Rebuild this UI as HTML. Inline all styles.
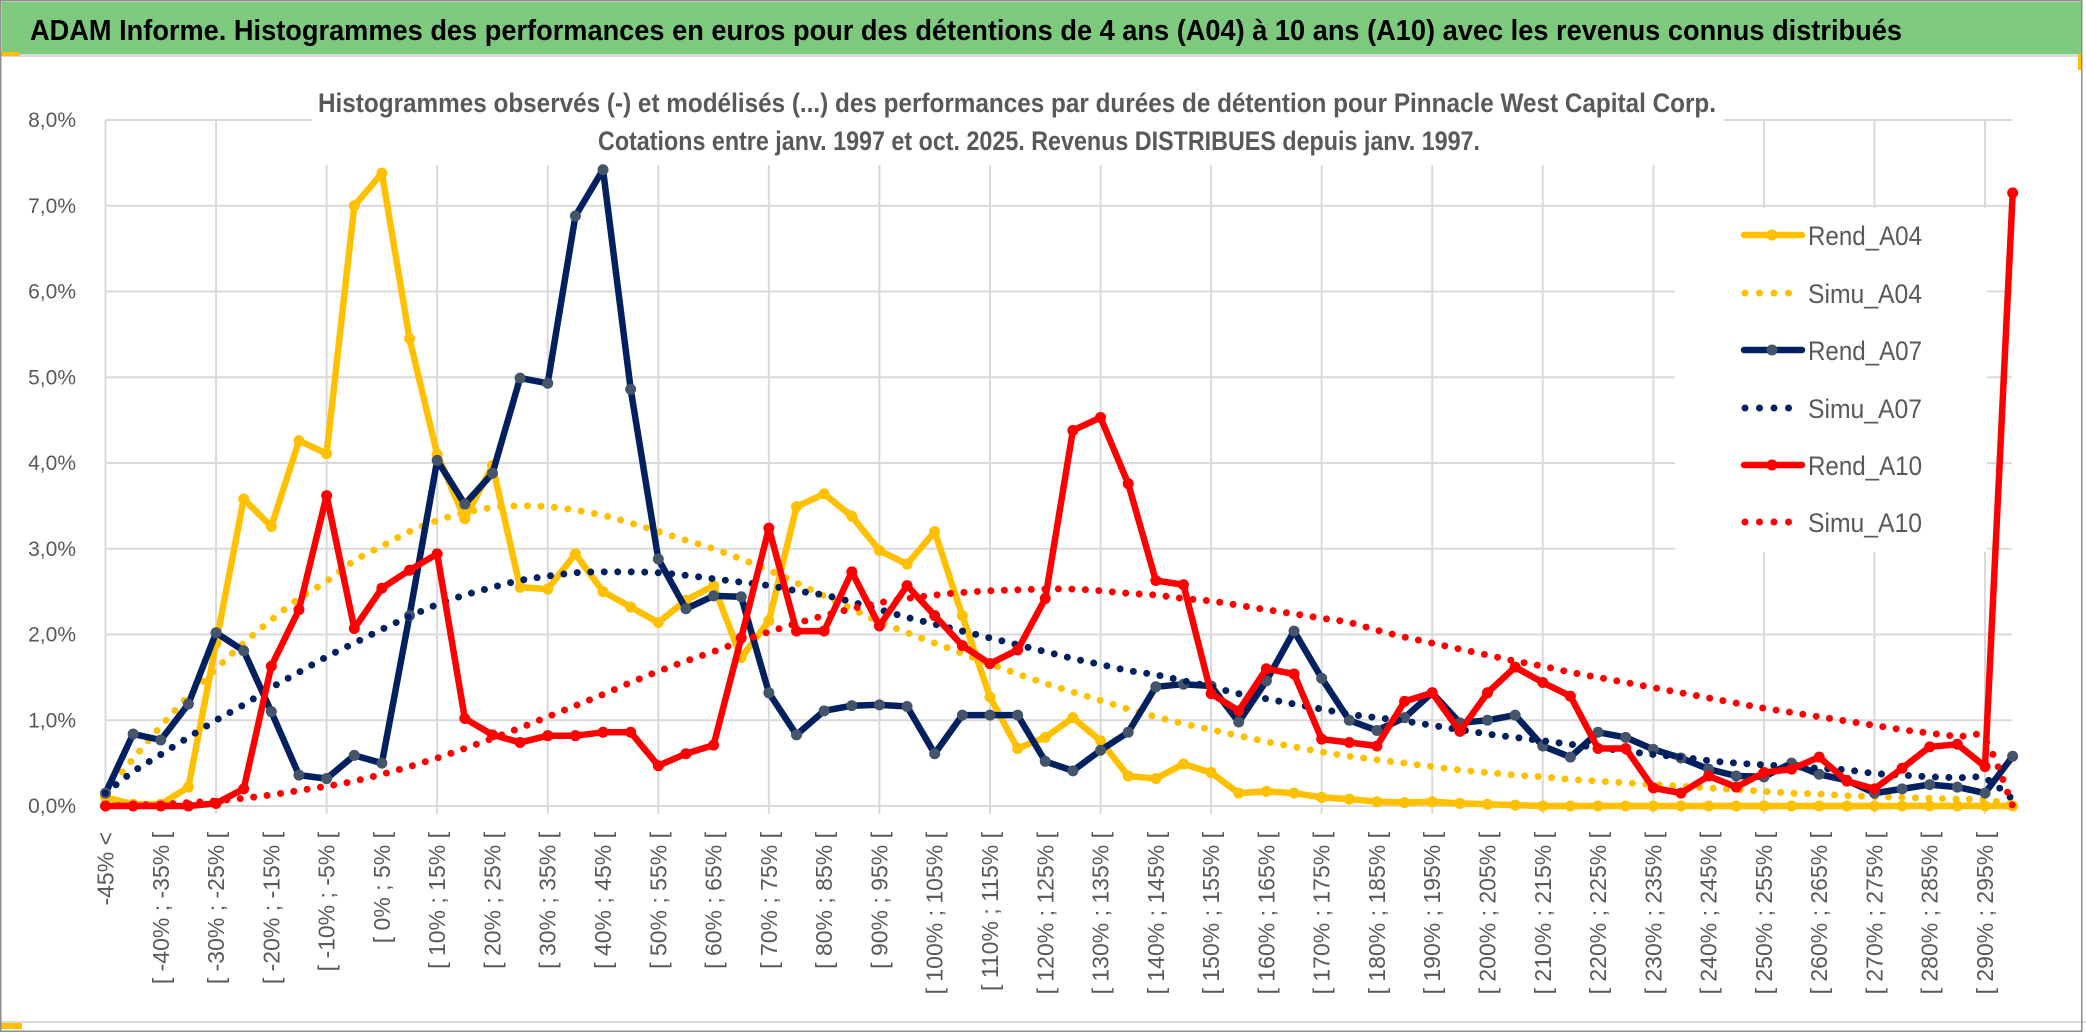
<!DOCTYPE html>
<html><head><meta charset="utf-8">
<style>
html,body{margin:0;padding:0;background:#fff;}
svg{display:block;}
text{font-family:"Liberation Sans",sans-serif;}
</style></head>
<body>
<svg id="chart" width="2086" height="1033" viewBox="0 0 2086 1033" xmlns="http://www.w3.org/2000/svg">
  <rect x="0" y="0" width="2086" height="1033" fill="#ffffff"/>
  <rect x="2" y="2" width="2080" height="52" fill="#7dc97d"/>
  <rect x="2" y="54" width="2080" height="3" fill="#d9d9d9"/>
  <rect x="1" y="52" width="19" height="4" fill="#ffc000"/>
  <rect x="2078" y="54" width="4" height="16" fill="#ffc000"/>
  <rect x="1" y="1023" width="21" height="6" fill="#ffc000"/>
  <line x1="0" y1="1022" x2="2086" y2="1022" stroke="#d9d9d9" stroke-width="2"/>
  <rect x="0.75" y="0.75" width="2081" height="1030.5" fill="none" stroke="#8c8c8c" stroke-width="1.5"/>
  <text x="30" y="40" font-size="29" font-weight="bold" fill="#000" textLength="1872" lengthAdjust="spacingAndGlyphs">ADAM Informe. Histogrammes des performances en euros pour des détentions de 4 ans (A04) à 10 ans (A10) avec les revenus connus distribués</text>
  <g id="grid"></g>
  <rect x="312" y="60" width="1412" height="105" fill="#fff"/>
  <text x="318" y="112" font-size="27" font-weight="bold" fill="#595959" textLength="1398" lengthAdjust="spacingAndGlyphs">Histogrammes observés (-) et modélisés (...) des performances par durées de détention pour Pinnacle West Capital Corp.</text>
  <text x="598" y="150" font-size="27" font-weight="bold" fill="#595959" textLength="882" lengthAdjust="spacingAndGlyphs">Cotations entre janv. 1997 et oct. 2025. Revenus DISTRIBUES depuis janv. 1997.</text>
  <rect x="1675" y="208" width="312" height="344" fill="#fff"/>
  <g id="yaxis"></g>
  <g id="xaxis"></g>
  <g id="series"></g>
  <g id="legend"></g>
</svg>
<script>
// ---- data ----
const yTicks = [0,1,2,3,4,5,6,7,8];
const yTickLabels = ["0,0%","1,0%","2,0%","3,0%","4,0%","5,0%","6,0%","7,0%","8,0%"];
const categoryLowerBounds = [-45,-40,-35,-30,-25,-20,-15,-10,-5,0,5,10,15,20,25,30,35,40,45,50,55,60,65,70,75,80,85,90,95,100,105,110,115,120,125,130,135,140,145,150,155,160,165,170,175,180,185,190,195,200,205,210,215,220,225,230,235,240,245,250,255,260,265,270,275,280,285,290,295];
const rendA04 = [0.1,0.02,0.02,0.22,1.9,3.58,3.26,4.26,4.11,7.0,7.38,5.45,4.1,3.35,3.97,2.55,2.53,2.94,2.5,2.32,2.14,2.4,2.57,1.73,2.16,3.49,3.64,3.38,2.98,2.82,3.2,2.22,1.27,0.67,0.8,1.03,0.76,0.35,0.32,0.49,0.39,0.15,0.17,0.15,0.1,0.08,0.05,0.04,0.05,0.03,0.02,0.01,0,0,0,0,0,0,0,0,0,0,0,0,0,0,0,0,0,0];
const simuA04 = [0.15,0.55,0.93,1.28,1.6,1.9,2.17,2.42,2.62,2.86,3.03,3.2,3.33,3.42,3.48,3.5,3.49,3.45,3.39,3.3,3.2,3.1,3.0,2.88,2.75,2.6,2.45,2.3,2.15,2.02,1.9,1.78,1.66,1.54,1.43,1.33,1.23,1.13,1.04,0.96,0.89,0.82,0.75,0.69,0.63,0.58,0.54,0.5,0.46,0.42,0.39,0.36,0.34,0.31,0.29,0.27,0.25,0.23,0.21,0.19,0.17,0.15,0.14,0.12,0.11,0.1,0.09,0.08,0.07,0.02];
const rendA07 = [0.15,0.84,0.77,1.19,2.02,1.81,1.1,0.36,0.32,0.59,0.5,2.22,4.03,3.52,3.88,4.99,4.93,6.88,7.42,4.86,2.88,2.3,2.45,2.44,1.32,0.83,1.11,1.17,1.18,1.16,0.61,1.06,1.06,1.06,0.52,0.41,0.65,0.86,1.39,1.42,1.4,0.98,1.46,2.04,1.49,1.0,0.88,1.03,1.32,0.97,1.0,1.06,0.7,0.57,0.86,0.8,0.66,0.56,0.43,0.35,0.34,0.5,0.37,0.3,0.15,0.2,0.25,0.22,0.15,0.58];
const simuA07 = [0.15,0.4,0.6,0.8,1.0,1.18,1.38,1.56,1.74,1.9,2.06,2.21,2.35,2.46,2.55,2.63,2.68,2.72,2.73,2.73,2.72,2.69,2.65,2.61,2.57,2.51,2.46,2.38,2.29,2.2,2.12,2.04,1.96,1.88,1.8,1.72,1.65,1.58,1.53,1.46,1.39,1.31,1.25,1.19,1.13,1.07,1.03,0.99,0.94,0.89,0.84,0.8,0.76,0.72,0.68,0.64,0.6,0.57,0.53,0.5,0.48,0.46,0.44,0.42,0.38,0.36,0.34,0.33,0.32,0.08];
const rendA10 = [0,0,0,0,0.03,0.2,1.63,2.29,3.62,2.07,2.54,2.75,2.94,1.02,0.83,0.74,0.82,0.82,0.86,0.86,0.47,0.61,0.71,1.96,3.24,2.04,2.04,2.73,2.1,2.57,2.22,1.87,1.66,1.82,2.42,4.38,4.53,3.76,2.63,2.58,1.31,1.11,1.6,1.54,0.78,0.74,0.7,1.22,1.32,0.87,1.32,1.62,1.44,1.28,0.67,0.67,0.21,0.15,0.35,0.22,0.39,0.43,0.57,0.29,0.2,0.44,0.69,0.72,0.46,7.15];
const simuA10 = [0.0,0.01,0.02,0.04,0.06,0.09,0.13,0.18,0.23,0.29,0.37,0.46,0.56,0.67,0.79,0.91,1.04,1.17,1.3,1.44,1.57,1.69,1.8,1.92,2.03,2.13,2.22,2.3,2.37,2.42,2.46,2.49,2.51,2.52,2.53,2.53,2.51,2.48,2.46,2.42,2.39,2.34,2.29,2.24,2.19,2.14,2.05,1.97,1.9,1.83,1.76,1.69,1.63,1.56,1.5,1.44,1.38,1.32,1.26,1.2,1.14,1.09,1.04,0.99,0.94,0.89,0.85,0.81,0.77,0.0];
const seriesNames = ["Rend_A04","Simu_A04","Rend_A07","Simu_A07","Rend_A10","Simu_A10"];

// ---- scales ----
const X0 = 105.5, DX = 27.64, Y0 = 806, DY = 85.75;
function xs(i){ return X0 + DX * i; }
function ys(v){ return Y0 - v * DY; }
const NS = "http://www.w3.org/2000/svg";
function mk(tag, attrs){ const e = document.createElementNS(NS, tag); for (const k in attrs) e.setAttribute(k, attrs[k]); return e; }

const categories = ["-45% <"];
for (let k = 0; k < categoryLowerBounds.length; k++) {
  const a = categoryLowerBounds[k];
  categories.push("[ " + a + "% ; " + (a + 5) + "% [");
}
const N = categories.length;

// ---- grid ----
const grid = document.getElementById("grid");
yTicks.forEach(function(t){
  const l = mk("line", {x1: X0, x2: 2012, y1: ys(t), y2: ys(t), stroke: "#d9d9d9", "stroke-width": 2});
  
  
  grid.appendChild(l);
});
for (let i = 0; i < N; i += 4) {
  const l = mk("line", {x1: xs(i), x2: xs(i), y1: ys(8), y2: Y0 + 8, stroke: "#d9d9d9", "stroke-width": 2});
  
  
  grid.appendChild(l);
}

// ---- y axis ----
const yax = document.getElementById("yaxis");
yTicks.forEach(function(t, k){
  const tx = mk("text", {x: 76, y: ys(t) + 7, "font-size": 21, fill: "#595959", "text-anchor": "end"});
  tx.textContent = yTickLabels[k];
  
  
  yax.appendChild(tx);
});

// ---- x axis ----
const xax = document.getElementById("xaxis");
for (let i = 0; i < N; i += 2) {
  const x = xs(i) + 8, y = 832;
  const tx = mk("text", {x: x, y: y, "font-size": 23, fill: "#595959", "text-anchor": "end", transform: "rotate(-90 " + x + " " + y + ")"});
  tx.textContent = categories[i];
  
  
  xax.appendChild(tx);
}

// ---- series ----
const sg = document.getElementById("series");
function straightPath(vals){
  return vals.map(function(v, i){ return (i ? "L" : "M") + xs(i).toFixed(1) + " " + ys(v).toFixed(1); }).join(" ");
}
function smoothPath(vals){
  const p = vals.map(function(v, i){ return [xs(i), ys(v)]; });
  let d = "M" + p[0][0].toFixed(1) + " " + p[0][1].toFixed(1);
  for (let i = 0; i < p.length - 1; i++) {
    const p0 = p[i - 1] || p[i], p1 = p[i], p2 = p[i + 1], p3 = p[i + 2] || p[i + 1];
    const c1x = p1[0] + (p2[0] - p0[0]) / 6, c1y = p1[1] + (p2[1] - p0[1]) / 6;
    const c2x = p2[0] - (p3[0] - p1[0]) / 6, c2y = p2[1] - (p3[1] - p1[1]) / 6;
    d += " C" + c1x.toFixed(1) + " " + c1y.toFixed(1) + " " + c2x.toFixed(1) + " " + c2y.toFixed(1) + " " + p2[0].toFixed(1) + " " + p2[1].toFixed(1);
  }
  return d;
}
function drawRend(vals, color, markerColor, name){
  const g = mk("g", {});
  
  
  const path = mk("path", {d: straightPath(vals), fill: "none", stroke: color, "stroke-width": 6.5, "stroke-linejoin": "round", "stroke-linecap": "round"});
  
  
  g.appendChild(path);
  vals.forEach(function(v, i){
    const c = mk("circle", {cx: xs(i), cy: ys(v), r: 5.5, fill: markerColor});
    
    
    g.appendChild(c);
  });
  sg.appendChild(g);
}
function drawSimu(vals, color, name){
  const path = mk("path", {d: smoothPath(vals), fill: "none", stroke: color, "stroke-width": 7, "stroke-dasharray": "0 13.5", "stroke-linecap": "round"});
  
  
  sg.appendChild(path);
}
drawRend(rendA04, "#ffc000", "#ffc000", "rend-a04");
drawSimu(simuA04, "#ffc000", "simu-a04");
drawRend(rendA07, "#002060", "#44546a", "rend-a07");
drawSimu(simuA07, "#002060", "simu-a07");
drawRend(rendA10, "#ff0000", "#ff0000", "rend-a10");
drawSimu(simuA10, "#ff0000", "simu-a10");

// ---- legend ----
const lg = document.getElementById("legend");
const legendColors = ["#ffc000","#ffc000","#002060","#002060","#ff0000","#ff0000"];
const legendMarkers = ["#ffc000","","#44546a","","#ff0000",""];
const legendY = [235,293,350,408,465,522];
seriesNames.forEach(function(n, k){
  const y = legendY[k];
  const g = mk("g", {});
  
  
  if (k % 2 === 0) {
    const l = mk("line", {x1: 1744, x2: 1802, y1: y, y2: y, stroke: legendColors[k], "stroke-width": 6.5, "stroke-linecap": "round"});
    
    
    g.appendChild(l);
    const c = mk("circle", {cx: 1772, cy: y, r: 5.5, fill: legendMarkers[k]});
    
    
    g.appendChild(c);
  } else {
    const l = mk("line", {x1: 1745, x2: (k === 5 ? 1800 : 1790), y1: y, y2: y, stroke: legendColors[k], "stroke-width": 7, "stroke-dasharray": "0 14.5", "stroke-linecap": "round"});
    
    
    g.appendChild(l);
  }
  const t = mk("text", {x: 1808, y: y + 10, "font-size": 27, fill: "#595959", textLength: 114, lengthAdjust: "spacingAndGlyphs"});
  t.textContent = n;
  
  
  g.appendChild(t);
  lg.appendChild(g);
});
</script>
</body></html>
